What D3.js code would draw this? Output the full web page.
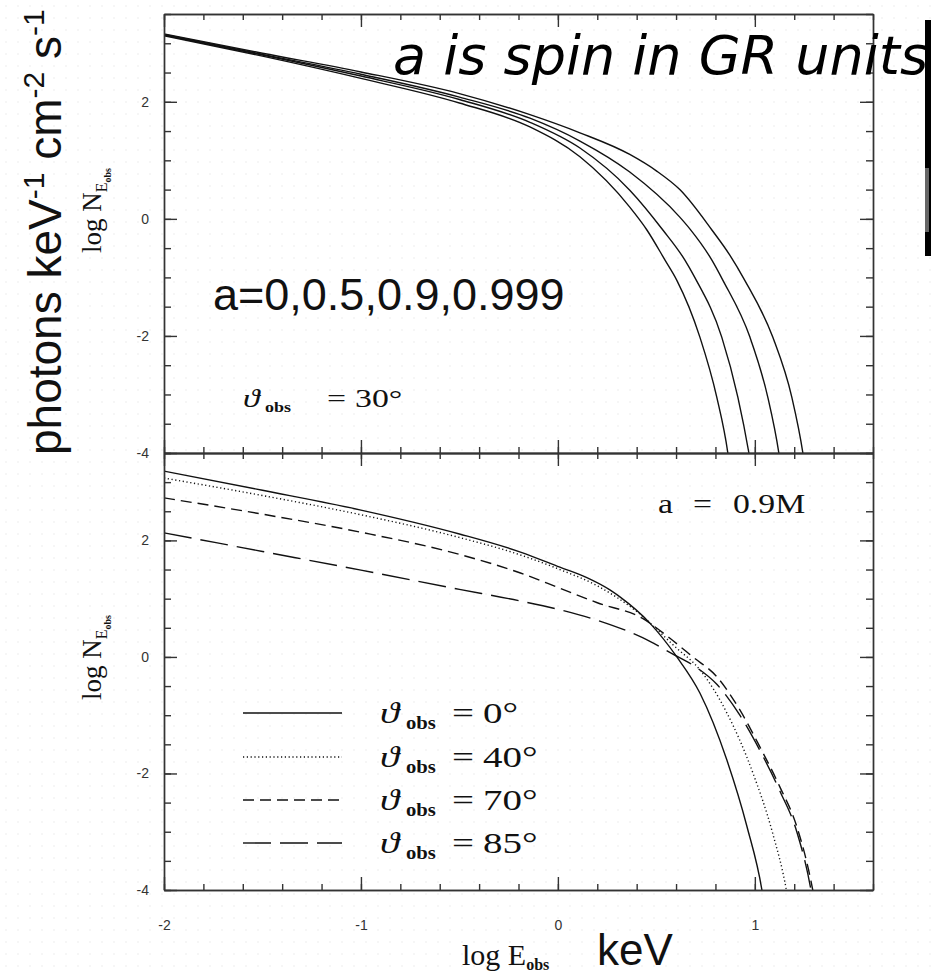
<!DOCTYPE html>
<html>
<head>
<meta charset="utf-8">
<script src="https://cdn.jsdelivr.net/npm/d3@7"></script>
<style>
  body { margin: 0; background: #fff; }
  svg { display: block; }
  .axis path, .axis line { stroke: #333; stroke-width: 1.4; }
  .axis text { font-family: "Liberation Sans", Arial, sans-serif; font-size: 14px; fill: #333; }
  .serif { font-family: "Liberation Serif", "DejaVu Serif", serif; fill: #111; }
  .curve { fill: none; stroke: #111; stroke-width: 1.4; }
</style>
</head>
<body>
<div id="chart"></div>
<script>
// tick labels
var xTickValues = [-2, -1, 0, 1];
var yTickValues = [-4, -2, 0, 2];

// top panel: spectra for spin a = 0, 0.5, 0.9, 0.999 (theta_obs = 30 deg)  [log E, log N]
var spinLabels = ["0", "0.5", "0.9", "0.999"];
var spinA0 = [[-2, 3.13], [-1.5, 2.78], [-1, 2.40], [-0.5, 1.98], [-0.142, 1.57], [0.112, 1.06], [0.365, 0.20],
  [0.452, -0.19], [0.544, -0.705], [0.604, -1.05], [0.721, -2.02], [0.807, -3.05], [0.863, -4.0], [0.875, -4.3]];
var spinA05 = [[-2, 3.14], [-1.5, 2.80], [-1, 2.44], [-0.5, 2.04], [-0.142, 1.65], [0.112, 1.21], [0.365, 0.49],
  [0.533, -0.19], [0.645, -0.705], [0.695, -1.0], [0.832, -2.02], [0.914, -3.05], [0.97, -4.0], [0.985, -4.3]];
var spinA09 = [[-2, 3.15], [-1.5, 2.81], [-1, 2.47], [-0.5, 2.08], [-0.142, 1.72], [0.112, 1.33], [0.365, 0.80],
  [0.619, 0.03], [0.67, -0.17], [0.782, -0.705], [0.838, -1.05], [0.975, -2.02], [1.066, -3.05], [1.122, -4.0], [1.135, -4.3]];
var spinA0999 = [[-2, 3.16], [-1.5, 2.83], [-1, 2.51], [-0.5, 2.14], [-0.142, 1.78], [0.112, 1.47], [0.365, 1.10],
  [0.5, 0.82], [0.619, 0.50], [0.782, -0.19], [0.873, -0.62], [0.949, -1.05], [1.091, -2.02], [1.188, -3.05], [1.244, -4.0], [1.257, -4.3]];

// bottom panel: a = 0.9M, theta_obs = 0, 40, 70, 85 deg
var inclLabels = ["0°", "40°", "70°", "85°"];
var incl0 = [[-2, 3.19], [-1.5, 2.86], [-1, 2.52], [-0.5, 2.11], [-0.19, 1.80], [0.01, 1.54], [0.147, 1.36], [0.264, 1.15],
  [0.315, 1.03], [0.467, 0.58], [0.604, 0.0], [0.721, -0.62], [0.858, -1.77], [0.96, -2.91], [1.036, -4.0], [1.05, -4.3]];
var incl40 = [[-2, 3.07], [-1.5, 2.77], [-1, 2.44], [-0.5, 2.05], [-0.19, 1.75], [0.01, 1.50], [0.2, 1.22], [0.4, 0.78],
  [0.6, 0.16], [0.721, -0.22], [0.858, -0.96], [0.99, -1.99], [1.09, -3.02], [1.16, -4.0], [1.175, -4.3]];
var incl70 = [[-2, 2.73], [-1.5, 2.45], [-1, 2.14], [-0.5, 1.76], [-0.19, 1.44], [0.01, 1.18], [0.2, 0.93], [0.43, 0.66],
  [0.569, 0.32], [0.685, 0.0], [0.807, -0.34], [0.924, -0.91], [1.025, -1.54], [1.127, -2.23], [1.213, -2.91], [1.294, -4.0], [1.31, -4.3]];
var incl85 = [[-2, 2.13], [-1.5, 1.81], [-1, 1.49], [-0.5, 1.16], [-0.19, 0.96], [0.01, 0.81], [0.2, 0.63], [0.43, 0.33],
  [0.584, 0.05], [0.685, -0.14], [0.807, -0.47], [0.924, -1.0], [1.025, -1.6], [1.127, -2.3], [1.213, -3.0], [1.285, -4.0], [1.3, -4.3]];

var inclDash = ["none", "1.2,2.6", "11,6", "28,9"];

var width = 931, height = 974;

var svg = d3.select("#chart").append("svg")
  .attr("width", width)
  .attr("height", height);

// faint dotted slide background
var defs = svg.append("defs");
defs.append("pattern")
  .attr("id", "dots")
  .attr("width", 12).attr("height", 12)
  .attr("patternUnits", "userSpaceOnUse")
  .append("circle")
  .attr("cx", 6).attr("cy", 6).attr("r", 0.7)
  .attr("fill", "#e6e6e6");
svg.append("rect").attr("width", width).attr("height", height).attr("fill", "url(#dots)");

var x = d3.scaleLinear().domain([-2, 1.6]).range([164, 873]);
var yTop = d3.scaleLinear().domain([-4, 3.5]).range([453, 14]);
var yBot = d3.scaleLinear().domain([-4, 3.5]).range([890, 453]);

var fmt = function(d) { return String(d); };

// axes with inward ticks on all four sides
function frame(y, showXLabels) {
  var top = y.range()[1], bottom = y.range()[0];
  var left = x.range()[0], right = x.range()[1];

  svg.append("g").attr("class", "axis").attr("transform", "translate(0," + bottom + ")")
    .call(d3.axisBottom(x).ticks(18).tickSize(-6).tickSizeOuter(0).tickFormat(""));
  svg.append("g").attr("class", "axis").attr("transform", "translate(0," + bottom + ")")
    .call(d3.axisBottom(x).tickValues(xTickValues).tickSize(-13).tickSizeOuter(0)
      .tickPadding(30).tickFormat(showXLabels ? fmt : ""));

  svg.append("g").attr("class", "axis").attr("transform", "translate(0," + top + ")")
    .call(d3.axisTop(x).ticks(18).tickSize(-6).tickSizeOuter(0).tickFormat(""));
  svg.append("g").attr("class", "axis").attr("transform", "translate(0," + top + ")")
    .call(d3.axisTop(x).tickValues(xTickValues).tickSize(-13).tickSizeOuter(0).tickFormat(""));

  svg.append("g").attr("class", "axis").attr("transform", "translate(" + left + ",0)")
    .call(d3.axisLeft(y).ticks(15).tickSize(-7).tickSizeOuter(0).tickFormat(""));
  svg.append("g").attr("class", "axis").attr("transform", "translate(" + left + ",0)")
    .call(d3.axisLeft(y).tickValues(yTickValues).tickSize(-13).tickSizeOuter(0).tickPadding(15).tickFormat(fmt));

  svg.append("g").attr("class", "axis").attr("transform", "translate(" + right + ",0)")
    .call(d3.axisRight(y).ticks(15).tickSize(-7).tickSizeOuter(0).tickFormat(""));
  svg.append("g").attr("class", "axis").attr("transform", "translate(" + right + ",0)")
    .call(d3.axisRight(y).tickValues(yTickValues).tickSize(-13).tickSizeOuter(0).tickFormat(""));
}

function curves(y, id, series, dashes) {
  svg.append("clipPath").attr("id", id)
    .append("rect")
    .attr("x", x.range()[0]).attr("y", y.range()[1])
    .attr("width", x.range()[1] - x.range()[0])
    .attr("height", y.range()[0] - y.range()[1]);

  var line = d3.line()
    .x(function(d) { return x(d[0]); })
    .y(function(d) { return y(d[1]); })
    .curve(d3.curveMonotoneX);

  svg.append("g").attr("clip-path", "url(#" + id + ")")
    .selectAll("path")
    .data(series)
    .enter()
    .append("path")
    .attr("class", "curve")
    .attr("stroke-dasharray", function(d, i) { return dashes ? dashes[i] : null; })
    .attr("d", line);
}

curves(yTop, "clipTop", [spinA0, spinA05, spinA09, spinA0999], null);
curves(yBot, "clipBot", [incl0, incl40, incl70, incl85], inclDash);
frame(yTop, false);
frame(yBot, true);

// figure text (the original figure is stretched sideways)
function stretched(px, py, str, size, sx) {
  return svg.append("text")
    .attr("class", "serif")
    .attr("transform", "translate(" + px + "," + py + ") scale(" + (sx || 1.3) + ",1)")
    .style("font-size", size + "px")
    .text(str);
}

function thetaLabel(pos, py, val, size) {
  stretched(pos[0], py, "ϑ", size).style("font-style", "italic");
  stretched(pos[1], py + size * 0.2, "obs", size * 0.6, 1.15).style("font-weight", "bold");
  stretched(pos[2], py, "=", size);
  stretched(pos[3], py, val, size);
}

thetaLabel([243, 265, 327, 355], 407, "30°", 26);

stretched(658, 513, "a", 27, 1.25);
stretched(693, 513, "=", 27, 1.25);
stretched(733, 513, "0.9M", 27, 1.25);

// legend of the bottom panel
var legendY = [713, 757, 800, 843];
inclLabels.forEach(function(lab, i) {
  svg.append("line")
    .attr("class", "curve")
    .attr("x1", 243).attr("x2", 342)
    .attr("y1", legendY[i]).attr("y2", legendY[i])
    .attr("stroke-dasharray", inclDash[i] === "none" ? null : inclDash[i]);
  thetaLabel([380, 406, 452, 483], legendY[i] + 10, lab, 30);
});

// y axis titles
[253, 700].forEach(function(py) {
  var t = svg.append("text")
    .attr("class", "serif")
    .attr("transform", "translate(101," + py + ") rotate(-90)")
    .style("font-size", "27px");
  t.append("tspan").text("log N");
  t.append("tspan").attr("dy", 6).style("font-size", "16px").text("E");
  t.append("tspan").attr("dy", 4).style("font-size", "10px").style("font-weight", "bold").text("obs");
});

// x axis title
var xt = svg.append("text").attr("class", "serif")
  .attr("x", 462).attr("y", 965)
  .style("font-size", "30px");
xt.append("tspan").text("log E");
xt.append("tspan").attr("dy", 5).style("font-size", "16px").style("font-weight", "bold").text("obs");

svg.append("text")
  .attr("x", 597).attr("y", 965)
  .style("font-family", "Liberation Sans, Arial, sans-serif")
  .style("font-size", "44px")
  .style("fill", "#111")
  .text("keV");

// slide annotations
var units = svg.append("text")
  .attr("transform", "translate(61,455) rotate(-90)")
  .style("font-family", "Liberation Sans, Arial, sans-serif")
  .style("font-size", "46px")
  .style("fill", "#111");
units.append("tspan").text("photons keV");
units.append("tspan").attr("dy", -17).style("font-size", "30px").text("-1");
units.append("tspan").attr("dy", 17).text(" cm");
units.append("tspan").attr("dy", -17).style("font-size", "30px").text("-2");
units.append("tspan").attr("dy", 17).text(" s");
units.append("tspan").attr("dy", -17).style("font-size", "30px").text("-1");

svg.append("text")
  .attr("x", 213).attr("y", 310)
  .style("font-family", "Liberation Sans, Arial, sans-serif")
  .style("font-size", "45px")
  .style("fill", "#111")
  .text("a=" + spinLabels.join(","));

svg.append("text")
  .attr("x", 393).attr("y", 74)
  .style("font-family", "DejaVu Sans, Verdana, sans-serif")
  .style("font-style", "italic")
  .style("font-size", "54px")
  .style("fill", "#000")
  .text("a is spin in GR units");

// cropped bar at the right edge of the slide
svg.append("rect").attr("x", 925).attr("y", 20).attr("width", 6).attr("height", 236).attr("fill", "#000");
svg.append("rect").attr("x", 925).attr("y", 168).attr("width", 4).attr("height", 64).attr("fill", "#666");
</script>
</body>
</html>
